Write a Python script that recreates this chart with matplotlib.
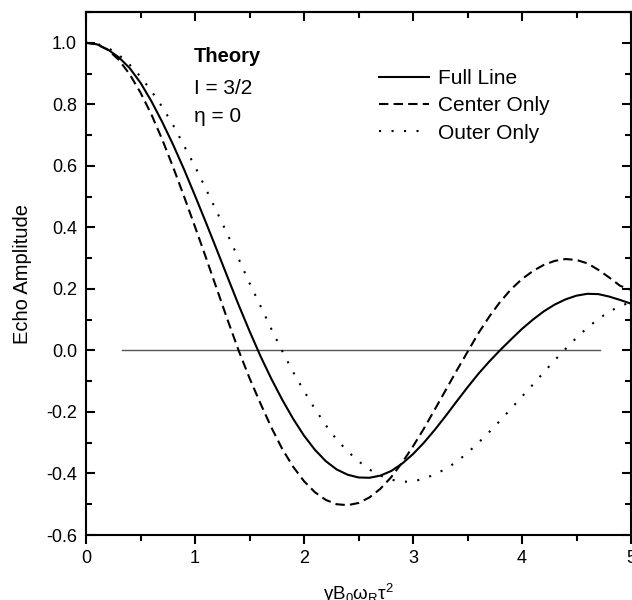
import matplotlib
matplotlib.use('Agg')
import matplotlib.pyplot as plt
from matplotlib.ticker import MultipleLocator, FormatStrFormatter

plt.rcParams['font.family'] = ['Liberation Sans', 'DejaVu Sans']
plt.rcParams['axes.unicode_minus'] = False
plt.rcParams['mathtext.fontset'] = 'custom'
plt.rcParams['mathtext.rm'] = 'Liberation Sans'
plt.rcParams['mathtext.it'] = 'Liberation Sans:italic'

# values, x step 0.1
x_vals = [i / 10 for i in range(51)]

full_line = [1.000, 0.995, 0.978, 0.953, 0.918, 0.870, 0.810, 0.742, 0.668, 0.588,
             0.503, 0.416, 0.327, 0.237, 0.148, 0.063, -0.018, -0.092, -0.160, -0.222,
             -0.277, -0.323, -0.360, -0.387, -0.404, -0.413, -0.414, -0.407, -0.392, -0.368,
             -0.337, -0.300, -0.258, -0.213, -0.166, -0.120, -0.076, -0.036, 0.001, 0.036,
             0.070, 0.100, 0.127, 0.149, 0.166, 0.178, 0.184, 0.183, 0.175, 0.164,
             0.152]

center_only = [1.000, 0.995, 0.977, 0.945, 0.898, 0.838, 0.767, 0.685, 0.595, 0.500,
               0.402, 0.302, 0.200, 0.098, 0.000, -0.090, -0.172, -0.250, -0.320, -0.378,
               -0.425, -0.461, -0.486, -0.500, -0.503, -0.496, -0.478, -0.450, -0.412, -0.365,
               -0.312, -0.254, -0.192, -0.129, -0.066, -0.005, 0.056, 0.110, 0.158, 0.199,
               0.232, 0.258, 0.278, 0.291, 0.297, 0.294, 0.283, 0.262, 0.237, 0.210,
               0.197]

outer_only = [1.000, 0.997, 0.984, 0.961, 0.929, 0.890, 0.843, 0.791, 0.732, 0.665,
              0.598, 0.525, 0.451, 0.376, 0.298, 0.219, 0.145, 0.070, -0.002, -0.070,
              -0.132, -0.190, -0.243, -0.290, -0.328, -0.360, -0.387, -0.407, -0.420, -0.427,
              -0.426, -0.417, -0.403, -0.385, -0.362, -0.333, -0.300, -0.265, -0.228, -0.189,
              -0.150, -0.111, -0.071, -0.032, 0.005, 0.041, 0.074, 0.102, 0.126, 0.144,
              0.157]

zero_line_x = [0.33, 4.72]
zero_line_y = [0.0, 0.0]

fig = plt.figure(figsize=(6.32, 6.0), dpi=100)
ax = fig.add_axes([86 / 632, 65 / 600, 545 / 632, 523 / 600])

ax.plot(zero_line_x, zero_line_y, color='#555555', lw=1.0)
ax.plot(x_vals, full_line, color='black', lw=1.5, label='Full Line')
ax.plot(x_vals, center_only, color='black', lw=1.5, dashes=(4.5, 2.5), label='Center Only')
ax.plot(x_vals, outer_only, color='black', lw=1.5, linestyle=(0, (1, 5)), label='Outer Only')

ax.set_xlim(0, 5)
ax.set_ylim(-0.6, 1.1)

ax.xaxis.set_major_locator(MultipleLocator(1))
ax.xaxis.set_minor_locator(MultipleLocator(0.5))
ax.yaxis.set_major_locator(MultipleLocator(0.2))
ax.yaxis.set_minor_locator(MultipleLocator(0.1))
ax.yaxis.set_major_formatter(FormatStrFormatter('%.1f'))
ax.set_yticks([-0.6, -0.4, -0.2, 0.0, 0.2, 0.4, 0.6, 0.8, 1.0])

ax.tick_params(axis='x', which='both', direction='out', top=False, labelsize=13, pad=4)
ax.tick_params(axis='x', which='major', length=6.5, width=1.5)
ax.tick_params(axis='x', which='minor', length=4.5, width=1.5)
ax.tick_params(axis='y', which='both', direction='in', right=True, labelsize=13, pad=6.5)
ax.tick_params(axis='y', which='major', length=6.5, width=1.5)
ax.tick_params(axis='y', which='minor', length=4.5, width=1.5)

# top axis with inward ticks, no labels
top = ax.secondary_xaxis('top')
top.xaxis.set_major_locator(MultipleLocator(1))
top.xaxis.set_minor_locator(MultipleLocator(0.5))
top.tick_params(which='both', direction='in', labeltop=False, width=1.5)
top.tick_params(which='major', length=6.5)
top.tick_params(which='minor', length=4.5)
top.spines['top'].set_linewidth(1.5)

for s in ax.spines.values():
    s.set_linewidth(1.5)

ax.set_ylabel('Echo Amplitude', fontsize=14.5, labelpad=10)
ax.set_xlabel('\u03b3B$_0$\u03c9$_\\mathrm{R}$\u03c4$^2$', fontsize=13.5, labelpad=11)

ax.text(0.198, 0.905, 'Theory', transform=ax.transAxes, fontsize=14.5,
        fontweight='bold', va='baseline')
ax.text(0.198, 0.843, 'I = 3/2', transform=ax.transAxes, fontsize=15, va='baseline')
ax.text(0.198, 0.790, '\u03b7 = 0', transform=ax.transAxes, fontsize=15, va='baseline')

ax.legend(loc='upper left', bbox_to_anchor=(0.538, 0.891), frameon=False,
          fontsize=15, borderpad=0, borderaxespad=0, handlelength=2.4,
          handletextpad=0.42, labelspacing=0.4)

fig.savefig('out.png', dpi=100)
